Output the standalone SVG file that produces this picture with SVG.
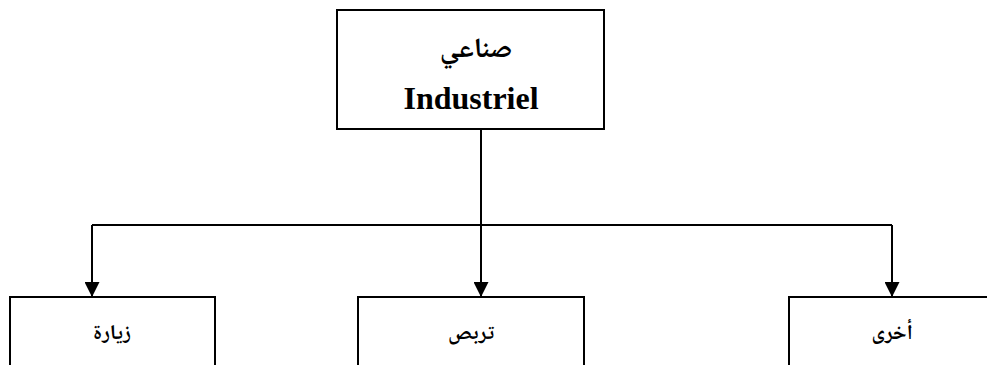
<svg xmlns="http://www.w3.org/2000/svg" width="987" height="365" viewBox="0 0 987 365">
  <defs>
    <marker id="arrow" markerWidth="15" markerHeight="15" refX="15" refY="7.5" orient="auto" markerUnits="userSpaceOnUse">
      <path d="M0,0 L15,7.5 L0,15 Z" fill="#000"/>
    </marker>
    <style>
      .box { fill: #fff; stroke: #000; stroke-width: 2; }
      .wire { fill: none; stroke: #000; stroke-width: 2; }
      .lat { font-family: "Liberation Serif", "Times New Roman", serif; font-weight: bold; font-size: 32px; text-anchor: middle; fill: #000; }
      .ar { font-family: "Noto Naskh Arabic", "Noto Sans Arabic", "DejaVu Sans", sans-serif; font-weight: bold; text-anchor: middle; fill: #000; direction: rtl; }
    </style>
  </defs>
  <rect width="987" height="365" fill="#fff"/>

  <!-- connectors -->
  <g id="connectors">
    <line class="wire" x1="481" y1="129" x2="481" y2="225"/>
    <line class="wire" x1="92" y1="225" x2="892" y2="225"/>
    <line class="wire" x1="92" y1="225" x2="92" y2="297" marker-end="url(#arrow)"/>
    <line class="wire" x1="481" y1="225" x2="481" y2="297" marker-end="url(#arrow)"/>
    <line class="wire" x1="892" y1="225" x2="892" y2="297" marker-end="url(#arrow)"/>
  </g>

  <!-- root node -->
  <g id="node-industriel">
    <rect class="box" x="337" y="10" width="267" height="119"/>
    <text class="ar" x="476" y="57" font-size="28">صناعي</text>
    <text class="lat" x="471" y="109">Industriel</text>
  </g>

  <!-- child nodes -->
  <g id="node-ziyara">
    <rect class="box" x="10" y="297" width="205" height="80"/>
    <text class="ar" x="112" y="339" font-size="21">زيارة</text>
  </g>
  <g id="node-tarabbus">
    <rect class="box" x="358" y="297" width="226" height="80"/>
    <text class="ar" x="471" y="339" font-size="21">تربص</text>
  </g>
  <g id="node-ukhra">
    <rect class="box" x="789" y="297" width="210" height="80"/>
    <text class="ar" x="892" y="339" font-size="21">أخرى</text>
  </g>
</svg>
